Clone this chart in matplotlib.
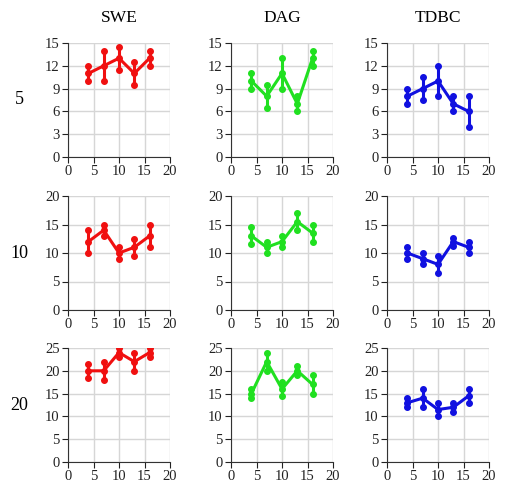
import numpy as np
import matplotlib
matplotlib.use("Agg")
import matplotlib.pyplot as plt

plt.rcParams['font.family'] = ['Liberation Serif', 'DejaVu Serif']

methods = ["SWE", "DAG", "TDBC"]
row_labels = ["5", "10", "20"]
colors = ["#f01010", "#20e020", "#1010e0"]
x = [4, 7, 10, 13, 16]

# means and error half-widths, [row][method]
means = [
    [[11, 12, 13, 11, 13], [10, 8, 11, 7, 13], [8, 9, 10, 7, 6]],
    [[12, 14, 10, 11, 13], [13, 11, 12, 15.5, 13.5], [10, 9, 8, 12, 11]],
    [[20, 20, 24, 22, 24], [15, 22, 16, 20, 17], [13, 14, 11.5, 12, 14.5]],
]
errs = [
    [[1, 2, 1.5, 1.5, 1], [1, 1.5, 2, 1, 1], [1, 1.5, 2, 1, 2]],
    [[2, 1, 1, 1.5, 2], [1.5, 1, 1, 1.5, 1.5], [1, 1, 1.5, 0.7, 1]],
    [[1.5, 2, 1, 2, 1], [1, 2, 1.5, 1, 2], [1, 2, 1.5, 1, 1.5]],
]
ylims = [15, 20, 25]
ysteps = [3, 5, 5]

fig = plt.figure(figsize=(5.08, 4.87), dpi=100)
W, H = 508, 487
lefts = [68, 231, 387]
width = 102
tops = [43, 196, 348]
height = 114

for r in range(3):
    for c in range(3):
        ax = fig.add_axes([lefts[c] / W, 1 - (tops[r] + height) / H, width / W, height / H])
        m = np.array(means[r][c])
        e = np.array(errs[r][c])
        col = colors[c]
        ax.errorbar(x, m, yerr=e, fmt='-o', color=col, lw=2.2, ms=4,
                    elinewidth=2.2, capsize=0, zorder=3)
        ax.plot(x, m + e, 'o', color=col, ms=4, zorder=3)
        ax.plot(x, m - e, 'o', color=col, ms=4, zorder=3)
        ax.set_xlim(0, 20)
        ax.set_ylim(0, ylims[r])
        ax.set_xticks([0, 5, 10, 15, 20])
        ax.set_yticks(np.arange(0, ylims[r] + 0.1, ysteps[r]))
        ax.grid(True, color='#d6d6d6', lw=1)
        ax.set_axisbelow(True)
        for s in ['top', 'right']:
            ax.spines[s].set_visible(False)
        ax.spines['left'].set_color('#333333')
        ax.spines['bottom'].set_color('#333333')
        ax.tick_params(direction='out', length=4, labelsize=10.5, colors='#222222', pad=2)
        for t in ax.get_xticklabels() + ax.get_yticklabels():
            t.set_clip_on(False)
        if r == 0:
            ax.set_title(methods[c], fontsize=12.5, pad=15)
        if c == 0:
            ax.text(-0.48, 0.5, row_labels[r], transform=ax.transAxes,
                    fontsize=13, ha='center', va='center')

fig.savefig("out.png", dpi=100)
